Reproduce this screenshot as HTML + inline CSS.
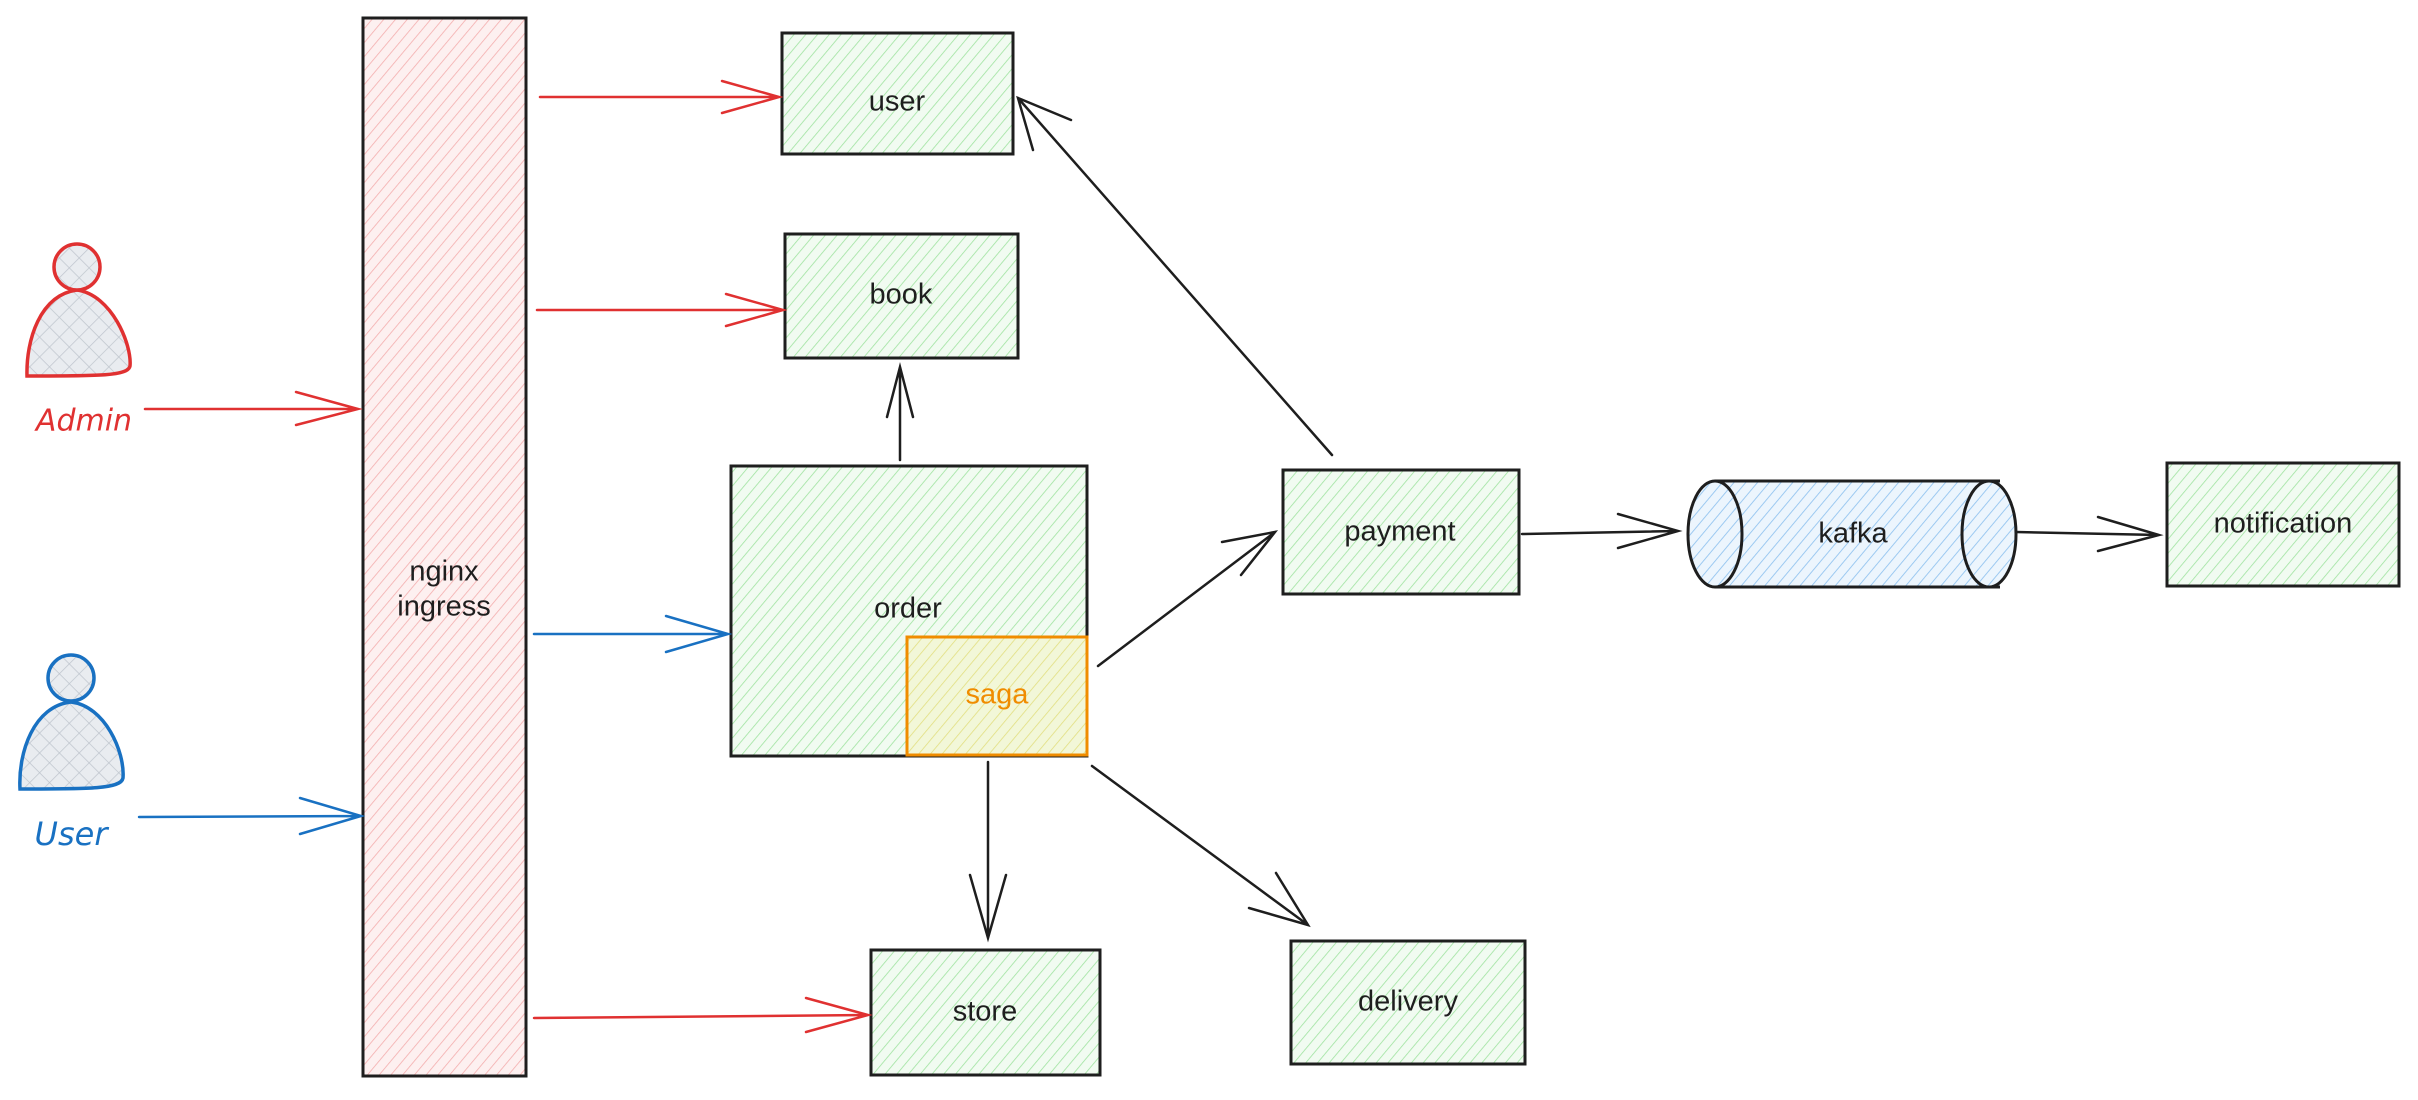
<!DOCTYPE html>
<html><head><meta charset="utf-8"><style>
html,body{margin:0;padding:0;background:#fff;}
svg{display:block;}
text{font-family:"Liberation Sans",sans-serif;font-size:29px;fill:#1e1e1e;text-anchor:middle;dominant-baseline:middle;}
</style></head><body>
<svg width="2418" height="1100" viewBox="0 0 2418 1100" xmlns="http://www.w3.org/2000/svg">
<defs>
<pattern id="hg" width="9" height="9" patternUnits="userSpaceOnUse" patternTransform="rotate(40)"><rect width="9" height="9" fill="#f1fbf1"/><line x1="0" y1="0" x2="0" y2="9" stroke="#9fe3a0" stroke-width="1.6"/></pattern>
<pattern id="hr" width="9" height="9" patternUnits="userSpaceOnUse" patternTransform="rotate(40)"><rect width="9" height="9" fill="#fdf0f0"/><line x1="0" y1="0" x2="0" y2="9" stroke="#f4adad" stroke-width="1.6"/></pattern>
<pattern id="hb" width="9" height="9" patternUnits="userSpaceOnUse" patternTransform="rotate(40)"><rect width="9" height="9" fill="#ecf5fd"/><line x1="0" y1="0" x2="0" y2="9" stroke="#94c5f0" stroke-width="1.8"/></pattern>
<pattern id="hy" width="9" height="9" patternUnits="userSpaceOnUse" patternTransform="rotate(40)"><rect width="9" height="9" fill="#f2f7d8"/><line x1="0" y1="0" x2="0" y2="9" stroke="#e2df80" stroke-width="1.6"/></pattern>
<pattern id="hx" width="14" height="14" patternUnits="userSpaceOnUse" patternTransform="rotate(45)"><rect width="14" height="14" fill="#e9ecf0"/><line x1="0" y1="0" x2="0" y2="14" stroke="#c0c6ce" stroke-width="1.5"/><line x1="0" y1="0" x2="14" y2="0" stroke="#c0c6ce" stroke-width="1.5"/></pattern>
</defs>

<rect x="363" y="18" width="163" height="1058" fill="url(#hr)" stroke="#1e1e1e" stroke-width="3"/>
<text x="444" y="573">nginx</text><text x="444" y="608">ingress</text>

<g stroke="#1e1e1e" stroke-width="3">
<rect x="782" y="33" width="231" height="121" fill="url(#hg)"/>
<rect x="785" y="234" width="233" height="124" fill="url(#hg)"/>
<rect x="731" y="466" width="356" height="290" fill="url(#hg)"/>
<rect x="871" y="950" width="229" height="125" fill="url(#hg)"/>
<rect x="1283" y="470" width="236" height="124" fill="url(#hg)"/>
<rect x="1291" y="941" width="234" height="123" fill="url(#hg)"/>
<rect x="2167" y="463" width="232" height="123" fill="url(#hg)"/>
</g>
<rect x="907" y="637" width="180" height="118" fill="url(#hy)" stroke="#f08c00" stroke-width="3"/>
<text x="897" y="103">user</text>
<text x="901" y="296">book</text>
<text x="908" y="610">order</text>
<text x="997" y="696" style="fill:#f08c00">saga</text>
<text x="985" y="1013">store</text>
<text x="1400" y="533">payment</text>
<text x="1408" y="1003">delivery</text>
<text x="2283" y="525">notification</text>

<path d="M1715 481 L2000 481 L2000 587 L1715 587 Z" fill="url(#hb)" stroke="none"/>
<line x1="1715" y1="481" x2="2000" y2="481" stroke="#1e1e1e" stroke-width="3"/>
<line x1="1715" y1="587" x2="2000" y2="587" stroke="#1e1e1e" stroke-width="3"/>
<ellipse cx="1715" cy="534" rx="27" ry="53" fill="url(#hb)" stroke="#1e1e1e" stroke-width="3"/>
<ellipse cx="1989" cy="534" rx="27" ry="53" fill="url(#hb)" stroke="#1e1e1e" stroke-width="3"/>
<text x="1853" y="535">kafka</text>

<g stroke="#e03131" stroke-width="3.5" fill="url(#hx)">
<path d="M27 376 C26 340 40 295 77 290 C112 295 132 345 130 366 C128 376 100 376 27 376 Z"/>
<circle cx="77" cy="267" r="23"/>
</g>
<g stroke="#1971c2" stroke-width="3.5" fill="url(#hx)">
<path d="M20 789 C18 752 34 706 71 702 C105 706 125 752 123 778 C121 789 90 789 20 789 Z"/>
<circle cx="71" cy="678" r="23"/>
</g>
<text x="84" y="422" style="fill:#e03131;font-family:'DejaVu Sans',sans-serif;font-style:italic;font-size:30px">Admin</text>
<text x="71" y="836" style="fill:#1971c2;font-family:'DejaVu Sans',sans-serif;font-style:italic;font-size:32px">User</text>

<g fill="none" stroke-width="2.5" stroke-linecap="round">
<g stroke="#e03131">
<path d="M145 409 L358 409 M296 392 L358 409 L296 425"/>
<path d="M540 97 L779 97 M722 81 L779 97 L722 113"/>
<path d="M537 310 L783 310 M726 294 L783 310 L726 326"/>
<path d="M534 1018 L868 1015 M806 998 L868 1015 L806 1032"/>
</g>
<g stroke="#1971c2">
<path d="M139 817 L361 816 M300 798 L361 816 L300 834"/>
<path d="M534 634 L728 634 M666 616 L728 634 L666 652"/>
</g>
<g stroke="#1e1e1e">
<path d="M900 460 L900 367 M887 417 L900 367 L913 417"/>
<path d="M988 762 L988 938 M970 875 L988 938 L1006 875"/>
<path d="M1098 666 L1275 532 M1222 542 L1275 532 L1241 575"/>
<path d="M1092 766 L1308 925 M1249 908 L1308 925 L1276 873"/>
<path d="M1332 455 L1018 98 M1033 150 L1018 98 L1071 120"/>
<path d="M1522 534 L1678 531 M1618 514 L1678 531 L1618 548"/>
<path d="M2016 532 L2159 535 M2098 517 L2159 535 L2098 551"/>
</g>
</g>
</svg>
</body></html>
